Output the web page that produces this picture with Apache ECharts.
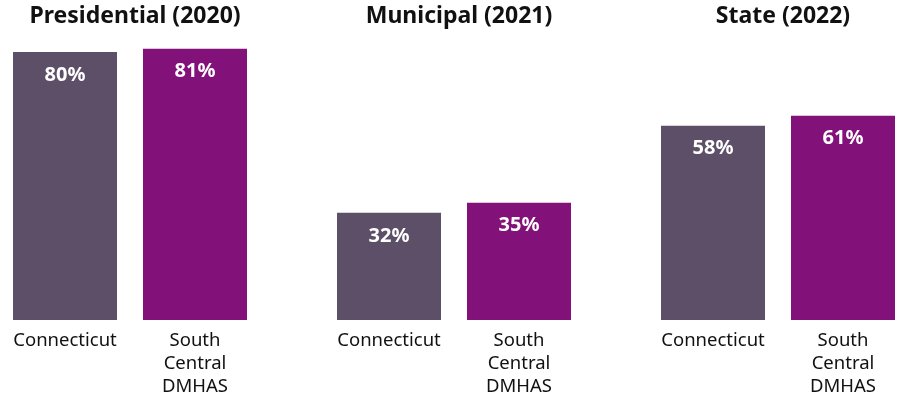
<!DOCTYPE html>
<html>
<head>
<meta charset="utf-8">
<script src="https://cdn.jsdelivr.net/npm/echarts@6/dist/echarts.min.js"></script>
<style>
html,body{margin:0;padding:0;background:#fff;}
#chart{width:899px;height:402px;}
</style>
</head>
<body>
<div id="chart"></div>
<script>
const panelTitles = ['Presidential (2020)', 'Municipal (2021)', 'State (2022)'];
const categories = ['Connecticut', 'South\nCentral\nDMHAS'];
const connecticut = [80, 32, 58];
const southCentral = [81, 35, 61];
const barColors = ['#5d4f68', '#82117a'];

const FONT = '"Noto Sans", sans-serif';
const chart = echarts.init(document.getElementById('chart'));
const grids = [], xAxes = [], yAxes = [], series = [], titles = [];
panelTitles.forEach((t, i) => {
  const left = 65 + i * 324;
  grids.push({left: left, width: 130, top: 18.5, bottom: 82});
  titles.push({
    text: t, left: left + 65, top: 0, textAlign: 'center',
    textStyle: {fontFamily: FONT, fontSize: 23, fontWeight: 'bold', color: '#111'}
  });
  xAxes.push({
    type: 'category', gridIndex: i, data: categories, boundaryGap: false,
    axisLine: {show: false}, axisTick: {show: false},
    axisLabel: {fontFamily: FONT, fontSize: 18.5, color: '#111', lineHeight: 23, margin: 9, interval: 0}
  });
  yAxes.push({
    type: 'value', gridIndex: i, min: 0, max: 90,
    show: false, splitLine: {show: false}
  });
  series.push({
    type: 'bar', xAxisIndex: i, yAxisIndex: i, barWidth: 104, clip: false,
    data: [connecticut[i], southCentral[i]].map((v, j) => ({value: v, itemStyle: {color: barColors[j]}})),
    label: {
      show: true, position: 'insideTop', distance: 13,
      formatter: '{c}%', color: '#fff', fontFamily: FONT, fontSize: 20, fontWeight: 'bold'
    }
  });
});
chart.setOption({
  animation: false,
  title: titles,
  grid: grids, xAxis: xAxes, yAxis: yAxes, series: series
});
</script>
</body>
</html>
